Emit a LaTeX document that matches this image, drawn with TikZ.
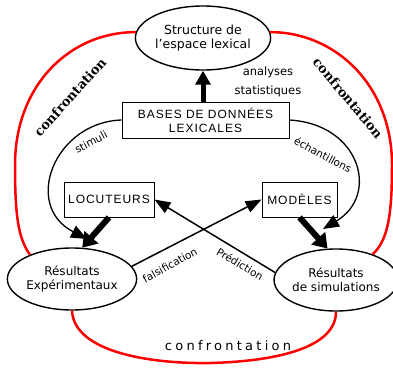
\documentclass[tikz,border=0pt]{standalone}
\usepackage{fontspec}
\setmainfont{DejaVu Sans}
\newfontfamily\boxfont[LetterSpace=8]{Liberation Sans}
\newfontfamily\conffont{DejaVu Serif}
\newfontfamily\spacedfont[LetterSpace=25]{DejaVu Sans}
\usetikzlibrary{shapes.geometric,arrows.meta}
\begin{document}
\begin{tikzpicture}[x=1pt,y=-1pt,
 ell/.style={draw,ellipse,line width=1.4pt,inner sep=0pt,align=center,font=\fontsize{12}{14}\selectfont},
 boxn/.style={draw,rectangle,line width=0.8pt,inner sep=0pt,align=center,font=\boxfont\fontsize{12}{14}\selectfont},
 thickarrow/.style={line width=6pt,-{Triangle[length=14pt,width=18pt]}},
 vertarrow/.style={line width=5pt,-{Triangle[length=14pt,width=15pt]}},
 thinarrow/.style={line width=1.3pt,-{Triangle[length=16pt,width=13pt]}},
 crossarrow/.style={line width=1.5pt,-{Triangle[length=16pt,width=12pt]}},
 redline/.style={red,line width=2.5pt},
 lab/.style={font=\fontsize{10.5}{12}\selectfont,inner sep=0pt},
 conf/.style={font=\conffont\bfseries\fontsize{13}{14}\selectfont,inner sep=0pt}]
\useasboundingbox (0,0) rectangle (393,367);

\node[ell,font=\fontsize{12.5}{14}\selectfont,minimum width=114pt,minimum height=64pt] (top) at (203,38) {Structure de\\l'espace lexical};
\node[boxn,minimum width=167pt,minimum height=36pt] (base) at (205.5,120) {BASES DE DONNÉES\\LEXICALES};
\node[boxn,minimum width=90pt,minimum height=35pt] (loc) at (109,199.5) {LOCUTEURS};
\node[boxn,minimum width=75pt,minimum height=35pt] (mod) at (299.5,199.5) {MODÈLES};
\node[ell,minimum width=118pt,minimum height=62pt] (exp) at (72,279) {Résultats\\Expérimentaux};
\node[ell,minimum width=114pt,minimum height=62pt] (sim) at (336,280) {Résultats\\de simulations};

\draw[vertarrow] (base.north -| top.south) -- (top.south);
\coordinate (stimEnd) at (87,239);
\draw[thinarrow] (base.west) .. controls (55,122) and (22,205) .. (stimEnd);
\coordinate (echEnd) at (323,229);
\draw[thinarrow] (base.east) .. controls (360,124) and (380,195) .. (echEnd);
\draw[thickarrow] (loc.south) -- (exp.72);
\draw[thickarrow] (mod.south) -- (sim.105);
\draw[crossarrow] (exp.12) -- (mod.west);
\draw[crossarrow] (sim.173) -- (loc.east);

\node[lab,rotate=28] (stim) at (91,142) {stimuli};
\node[lab,rotate=-28] (ech) at (323,155) {échantillons};
\node[lab,rotate=29] (fal) at (170,265) {falsification};
\node[lab,rotate=-31] (pred) at (240,264) {Prédiction};
\node[lab,font=\fontsize{11.5}{13}\selectfont] (an) at (268,72) {analyses};
\node[lab,font=\fontsize{11.5}{13}\selectfont] (st) at (268,91) {statistiques};

\draw[redline] (top.175) .. controls (70,32) and (15,85) .. (15,165) .. controls (15,215) and (18,238) .. (exp.150);
\draw[redline] (top.5) .. controls (335,32) and (392,85) .. (392,165) .. controls (392,215) and (388,240) .. (sim.35);
\draw[redline] (exp.south) .. controls (74,352) and (150,364) .. (210,363) .. controls (285,361) and (336,345) .. (sim.south);

\node[conf,rotate=48] (c1) at (70,97) {confrontation};
\node[conf,rotate=-50] (c2) at (348,98) {confrontation};
\node[inner sep=0pt,font=\spacedfont\fontsize{13}{14}\selectfont] (c3) at (228,346) {confrontation};
\end{tikzpicture}
\end{document}
